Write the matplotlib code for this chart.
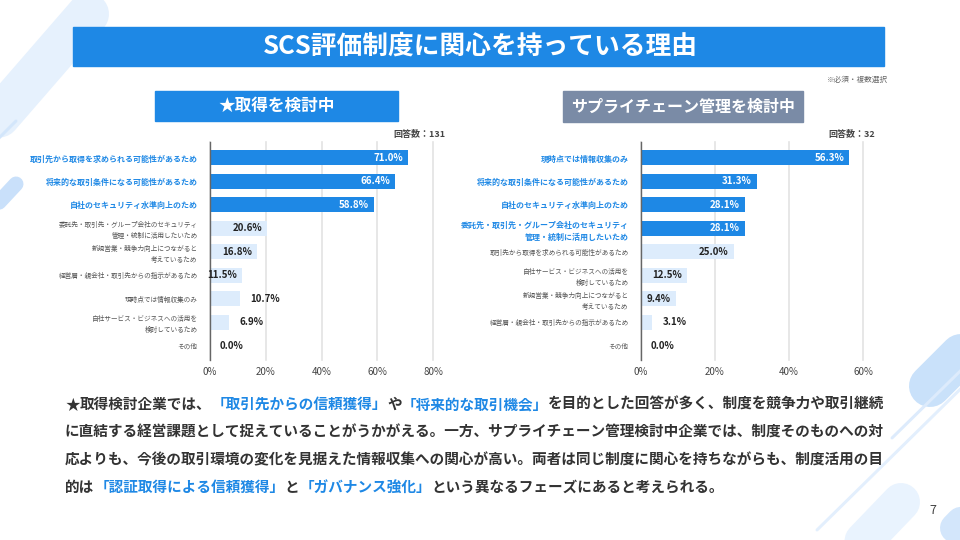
import matplotlib
matplotlib.use('Agg')
from matplotlib import pyplot as plt
from matplotlib.lines import Line2D
from matplotlib.patches import Rectangle
import matplotlib.transforms as mtransforms
import numpy as np

plt.rcParams['font.family'] = ['Noto Sans CJK JP', 'DejaVu Sans']

W, H = 960, 540
BLUE = '#1E88E5'
LIGHT = '#DDECFC'
GRAY_BOX = '#7A8BA6'
TEXT = '#333333'

# 取得を検討中 (回答数 131)
labels_a = [
    '取引先から取得を求められる可能性があるため',
    '将来的な取引条件になる可能性があるため',
    '自社のセキュリティ水準向上のため',
    '委託先・取引先・グループ会社のセキュリティ\n管理・統制に活用したいため',
    '新規営業・競争力向上につながると\n考えているため',
    '経営層・親会社・取引先からの指示があるため',
    '現時点では情報収集のみ',
    '自社サービス・ビジネスへの活用を\n検討しているため',
    'その他',
]
values_a = [71.0, 66.4, 58.8, 20.6, 16.8, 11.5, 10.7, 6.9, 0.0]
n_a = 131

# サプライチェーン管理を検討中 (回答数 32)
labels_b = [
    '現時点では情報収集のみ',
    '将来的な取引条件になる可能性があるため',
    '自社のセキュリティ水準向上のため',
    '委託先・取引先・グループ会社のセキュリティ\n管理・統制に活用したいため',
    '取引先から取得を求められる可能性があるため',
    '自社サービス・ビジネスへの活用を\n検討しているため',
    '新規営業・競争力向上につながると\n考えているため',
    '経営層・親会社・取引先からの指示があるため',
    'その他',
]
values_b = [56.3, 31.3, 28.1, 28.1, 25.0, 12.5, 9.4, 3.1, 0.0]
n_b = 32

body_lines = [
    [('★', TEXT), ('取得検討企業では、', TEXT), ('「取引先からの信頼獲得」', BLUE), ('や', TEXT),
     ('「将来的な取引機会」', BLUE), ('を目的とした回答が多く、制度を競争力や取引継続', TEXT)],
    [('に直結する経営課題として捉えていることがうかがえる。一方、サプライチェーン管理検討中企業では、制度そのものへの対', TEXT)],
    [('応よりも、今後の取引環境の変化を見据えた情報収集への関心が高い。両者は同じ制度に関心を持ちながらも、制度活用の目', TEXT)],
    [('的は', TEXT), ('「認証取得による信頼獲得」', BLUE), ('と', TEXT), ('「ガバナンス強化」', BLUE),
     ('という異なるフェーズにあると考えられる。', TEXT)],
]


def fx(x):
    return x / W


def fy(y):
    return 1 - y / H


fig = plt.figure(figsize=(9.6, 5.4), dpi=100)
fig.patch.set_facecolor('white')


def stroke(x0, y0, x1, y1, w, color):
    fig.add_artist(Line2D([fx(x0), fx(x1)], [fy(y0), fy(y1)], transform=fig.transFigure,
                          lw=w * 0.72, color=color, solid_capstyle='round', zorder=0))


# 背景の飾り
stroke(88, 14, -30, 150, 42, '#E6F1FD')
stroke(16, 121, -6, 143, 3, '#D3E6FB')
stroke(16, 184, -12, 214, 15, '#C9E0FA')
stroke(930, 386, 1010, 306, 42, '#C9E1FA')
stroke(892, 438, 1000, 332, 3, '#DDEBFC')
stroke(817, 530, 990, 360, 3, '#E3EFFD')
stroke(901, 502, 828, 578, 38, '#E9F3FE')
stroke(955, 528, 1000, 482, 30, '#D3E6FB')

# タイトル
fig.add_artist(Rectangle((fx(73), fy(66)), fx(884 - 73), 39 / H, transform=fig.transFigure,
                         color=BLUE, zorder=1))
fig.text(fx(480), fy(46.5), 'SCS評価制度に関心を持っている理由', ha='center', va='center',
         color='white', fontsize=18.5, weight='bold')
fig.text(fx(888), fy(80), '※必須・複数選択', ha='right', va='center', color='#666666', fontsize=5.5)

fig.add_artist(Rectangle((fx(155), fy(121)), fx(398 - 155), 30 / H, transform=fig.transFigure,
                         color=BLUE, zorder=1))
fig.text(fx(276.5), fy(106), '★取得を検討中', ha='center', va='center', color='white',
         fontsize=12, weight='bold')
fig.add_artist(Rectangle((fx(563), fy(122)), fx(803 - 563), 31 / H, transform=fig.transFigure,
                         color=GRAY_BOX, zorder=1))
fig.text(fx(683), fy(106.5), 'サプライチェーン管理を検討中', ha='center', va='center', color='white',
         fontsize=11.5, weight='bold')


def draw_panel(x_left, x_right, labels, values, n_hi, xmax, n_resp):
    rect = [fx(x_left), fy(360), fx(x_right - x_left), 218 / H]
    ax = fig.add_axes(rect)
    y = np.arange(len(values))
    colors = [BLUE if i < n_hi else LIGHT for i in range(len(values))]
    ax.barh(y, values, height=0.64, color=colors, zorder=2)
    ax.set_xlim(0, xmax)
    ax.set_ylim(len(values) - 0.4, -0.68)
    ticks = np.arange(0, xmax + 1, 20)
    ax.set_xticks(ticks, [f'{t:.0f}%' for t in ticks])
    ax.grid(axis='x', color='#E3E3E3', lw=1.2, zorder=0)
    for gl in ax.xaxis.get_gridlines():
        gl.set_clip_on(False)
    ax.set_axisbelow(True)
    for s in ['top', 'right', 'bottom']:
        ax.spines[s].set_visible(False)
    ax.spines['left'].set_color('#666666')
    ax.spines['left'].set_linewidth(1)
    ax.spines['left'].set_zorder(3)
    ax.tick_params(axis='x', length=0, pad=5, labelsize=7, labelcolor='#444444')
    ax.tick_params(axis='y', length=0, pad=9)
    ax.set_yticks(y, labels)
    for i, lab in enumerate(ax.get_yticklabels()):
        lab.set_linespacing(1.5)
        if i < n_hi:
            lab.set_color(BLUE)
            lab.set_fontsize(5.75)
            lab.set_fontweight('bold')
        else:
            lab.set_color('#555555')
            lab.set_fontsize(4.8)
    ax_px = rect[2] * W
    for i, v in enumerate(values):
        bar_px = v / xmax * ax_px
        if bar_px >= 31:
            tr = mtransforms.offset_copy(ax.transData, fig=fig, x=-5, y=0, units='dots')
            ha = 'right'
        else:
            tr = mtransforms.offset_copy(ax.transData, fig=fig, x=10, y=0, units='dots')
            ha = 'left'
        col = 'white' if i < n_hi else '#222222'
        ax.text(v, i, f'{v:.1f}%', transform=tr, ha=ha, va='center', color=col,
                fontsize=7, weight='bold', zorder=4)
    fig.text(fx(x_right + 12), fy(135), f'回答数：{n_resp}', ha='right', va='center',
             color='#444444', fontsize=6.5, weight='bold')
    return ax


draw_panel(210, 433, labels_a, values_a, 3, 80, n_a)
draw_panel(641, 863, labels_b, values_b, 4, 60, n_b)

# 本文
pitch = 14.64
for row, segs in enumerate(body_lines):
    i = 0
    for s, c in segs:
        fig.text(fx(65 + pitch * i), fy(404 + row * 27.6), s, ha='left', va='center',
                 color=c, fontsize=pitch * 0.72, weight='bold')
        i += len(s)

fig.text(fx(933), fy(510), '7', ha='center', va='center', color='#444444', fontsize=9)

fig.savefig('out.png', dpi=100)
